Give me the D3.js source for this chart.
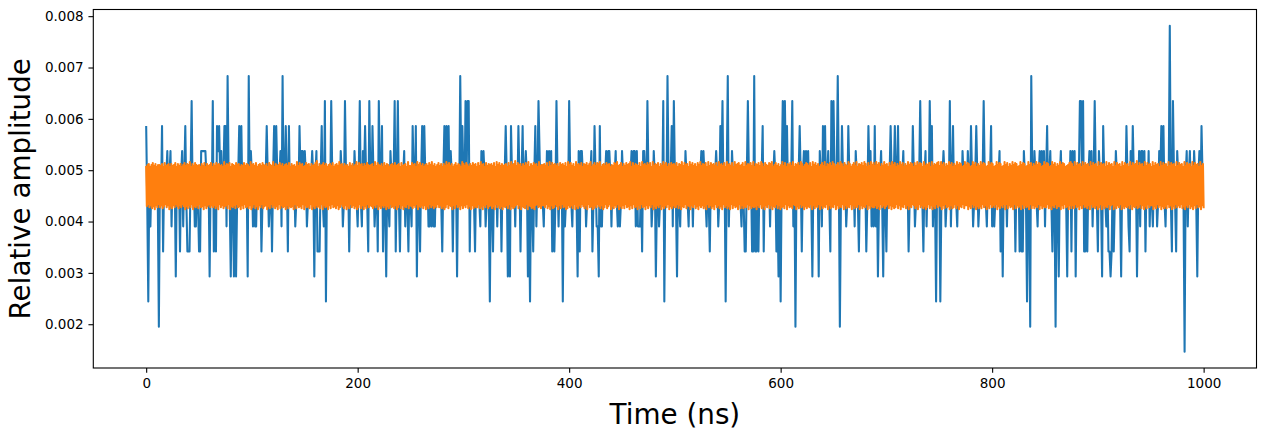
<!DOCTYPE html>
<html>
<head>
<meta charset="utf-8">
<script src="https://cdn.jsdelivr.net/npm/d3@7"></script>
<style>
    body { margin: 0; background: #fff; }
    svg { display: block; }
    text { font-family: "DejaVu Sans", sans-serif; }
</style>
</head>
<body>
<div id="chart"></div>
<script>
// Blue trace: one ADC level per ns (hex-ish, 'g' = 16), amplitude = level * LSB
const blueLevels = [
    "c95a8a9aa9 a94a9c7a9a b9ab8a9a6a 9a7ab8ac97 77ad9a88a9",
    "77bbbbba9a 6a9d7a7cbc ab9acc8ea9 6a96a69aca c9a9aa6e9b",
    "a8988a9aa7 9a9aca89a7 ac9ca9ab8e 9aca7c9a9a a89a9cabb9",
    "ba89a9aba6 ab777ac98d 5a9a9da9a9 a9a9ba89da 9a7a9a9ba9",
    "8ad98baca9 7da9ca89a7 da9c7a96a9 8ba9ad7ad9 7a9ab8a97a",
    "98ca9c6a97 ac9ca9a88a 8988a9a9a9 7ac9cac9ba 7a9a6a9eac",
    "a9dadd7a9a 97a9a98bab a89a95a97a 9a8a9a7a9a ca696ca9a8",
    "a9ca7ac9ab a695a97ac8 adb9a98a9b ab9b7a79da 8a9a5a89a9",
    "da98a9a96b 7bba9a89a9 ab79ca886c 88a9ab9bba 8a9ab98a89",
    "ba9a9a9aab abb8b888a7 bba9da9a89 ba69a89a9d 5a9ea9ac8d",
    "a96a98a9a9 ba98a9a8a9 a9a9ab9ba9 8a97a9a9ab a89cad9a5a",
    "e8a9ba9a9a 9a98a977ad a9a77e77a7 a9ac7a9a9a 8a9aba796a",
    "5ad9dac9a9 ad8a4a9aca 7ab9bab9a9 6a9a9a6ba8 cac9ab97da",
    "da9aea49ca 9a89ca9a9a 8ba97a9a9a a79cab898c 8a69ab96a9",
    "7a9aca9ac9 ac9a9ab9a9 a79a9ca89a 9ada97ab8a 9dac8a95a9",
    "a59aba89a9 d8ac9a98a9 a9ba9a9ba9 ca89aca89a 9ada98a9ac",
    "8a89a9ab7a 6a9a8a9a9a 9a7a9a7a77 ba95a94ea9 ba98ab9bab",
    "8ac9ab97a9 4a96ab9a9a 96a9b7bab6 a9addad77a 7ab9b8ada9",
    "7ba96ca98a 7767a79ba9 a96a9a9ca8 7b9ca9a69b 8bb9b7a9b8",
    "a98a9a89ba cac98a9ag9 7da97ba9a9 a93ab8ab9a 9ba96ab9ca"
].join('').replace(/\s/g, '');
const blueLSB = 1 / 2048;

// Orange trace: alternating upper / lower samples of the dense band
// upper = 0.00500 + d * 0.00002, lower = 0.00440 - d * 0.00002
const orangeHigh = [
    "4563574635 5463745636 4573646357 4658364754 5364736457",
    "3647564538 4657365475 6354746538 5647356475 4637548364",
    "5746356473 6453847563 4756364579 3645746356 4735648563",
    "6453746358 4756364754 5638475463 7465356474 5637456384",
    "4756385746 3564758463 5746364857 4635746538 6475364756",
    "3748563746 5647385746 4563748569 4756364758 3647563845",
    "5647384756 4637564738 5746385647 3657468357 4768356475",
    "6354768457 3647568374 6547385647 5738465736 4857364756",
    "4736584756 3857463758 4657384756 4738564738 5647385674",
    "5738465748 3657486375 4768357463 5847365748 3657486357",
    "6473857463 5748365748 6357486375 4863574836 5748637485",
    "7485736485 6374857364 8573648576 3748576384 6573846578",
    "4857364857 3648576348 5763485736 4857634857 6348576348",
    "5736485763 4857634857 3648576348 5763485736 4857634578",
    "6384756384 7563847563 8475638475 6384756384 7563847569",
    "4756384756 3847563847 5638475638 4756384756 3847563846"
].join('').replace(/\s/g, '');
const orangeLow = [
    "5364758463 6475364857 4635746358 5746385647 3658475364",
    "6475836475 4738564736 5847365748 6375846375 4857364758",
    "3746584756 5837465738 4657385746 5738465847 3657486357",
    "4857364758 6374857364 5746385746 4857365748 6374856374",
    "5746385647 4857364756 3647586374 5847365847 4637584756",
    "6375846375 4758364758 5647385764 3748567384 5768436574",
    "4637584763 5847365874 6473857463 5748365874 6357486375",
    "3857463857 4736584736 5847365847 4638574638 5746385746",
    "6374856374 5846375846 4758364758 3647583647 5837465837",
    "4756384756 5846375846 3748563748 6573846573 4857364857",
    "5638475638 4756384756 3847563847 5638475638 4756384756",
    "6475836475 3748576374 8563748563 4758364758 6374857364",
    "5847365847 6374856374 4857364857 5736485736 4638574638",
    "3746583746 5837465837 4756384756 6375846375 5847365847",
    "4736584736 5748365748 6384756384 3857463857 5647385647",
    "6374857364 4857364857 5736485736 4637584637 5847365847"
].join('').replace(/\s/g, '');
const orangeHighBase = 0.0050;
const orangeLowBase = 0.0044;
const orangeStep = 0.00002;
const orangeEnd = 1000; // ns

const xTicks = [0, 200, 400, 600, 800, 1000];
const yTicks = [0.002, 0.003, 0.004, 0.005, 0.006, 0.007, 0.008];

// Build series
const blueData = [...blueLevels].map((c, i) => ({ t: i, v: parseInt(c, 17) * blueLSB }));

const nOrange = Math.min(orangeHigh.length, orangeLow.length);
const dt = orangeEnd / (2 * nOrange - 1);
const orangeData = [];
for (let i = 0; i < nOrange; i++) {
    orangeData.push({ t: 2 * i * dt, v: orangeHighBase + (+orangeHigh[i]) * orangeStep });
    orangeData.push({ t: (2 * i + 1) * dt, v: orangeLowBase - (+orangeLow[i]) * orangeStep });
}

const W = 1265, H = 435;
const margin = { top: 9.5, right: 8.5, bottom: 67, left: 93.3 };
const width = W - margin.left - margin.right;
const height = H - margin.top - margin.bottom;

const svg = d3.select('#chart')
    .append('svg')
    .attr('width', W)
    .attr('height', H);

svg.append('rect').attr('width', W).attr('height', H).attr('fill', '#fff');

const g = svg.append('g')
    .attr('transform', `translate(${margin.left},${margin.top})`);

// matplotlib-like 5% margins
const all = blueData.concat(orangeData);
const [tMin, tMax] = d3.extent(all, d => d.t);
const [vMin, vMax] = d3.extent(all, d => d.v);
const tPad = (tMax - tMin) * 0.05, vPad = (vMax - vMin) * 0.05;

const xScale = d3.scaleLinear().domain([tMin - tPad, tMax + tPad]).range([0, width]);
const yScale = d3.scaleLinear().domain([vMin - vPad, vMax + vPad]).range([height, 0]);

g.append('clipPath').attr('id', 'clip')
    .append('rect').attr('width', width).attr('height', height);

const line = d3.line().x(d => xScale(d.t)).y(d => yScale(d.v));

const plot = g.append('g').attr('clip-path', 'url(#clip)');

// 1.5pt lines at 100 dpi
plot.append('path')
    .datum(blueData)
    .attr('fill', 'none')
    .attr('stroke', '#1f77b4')
    .attr('stroke-width', 2.08)
    .attr('stroke-linejoin', 'round')
    .attr('d', line);

plot.append('path')
    .datum(orangeData)
    .attr('fill', 'none')
    .attr('stroke', '#ff7f0e')
    .attr('stroke-width', 2.08)
    .attr('stroke-linejoin', 'round')
    .attr('d', line);

// Axes
const tickLen = 4.86;
const xAxis = g.append('g')
    .attr('transform', `translate(0,${height})`)
    .call(d3.axisBottom(xScale).tickValues(xTicks).tickFormat(d3.format('d')).tickSize(tickLen).tickPadding(5.5));

const yAxis = g.append('g')
    .call(d3.axisLeft(yScale).tickValues(yTicks).tickFormat(d3.format('.3f')).tickSize(tickLen).tickPadding(4.86));

[xAxis, yAxis].forEach(ax => {
    ax.select('.domain').remove();
    ax.selectAll('line').attr('stroke', '#000').attr('stroke-width', 1.1);
    ax.selectAll('text')
        .attr('fill', '#000')
        .style('font-size', '13.5px')
        .style('font-family', '"DejaVu Sans", sans-serif');
});

// Frame
g.append('rect')
    .attr('width', width)
    .attr('height', height)
    .attr('fill', 'none')
    .attr('stroke', '#000')
    .attr('stroke-width', 1.1);

// Axis labels
svg.append('text')
    .attr('x', margin.left + width / 2)
    .attr('y', 424)
    .attr('text-anchor', 'middle')
    .style('font-size', '27.8px')
    .style('fill', '#000')
    .text('Time (ns)');

svg.append('text')
    .attr('transform', 'rotate(-90)')
    .attr('x', -(margin.top + height / 2))
    .attr('y', 30)
    .attr('text-anchor', 'middle')
    .style('font-size', '27.8px')
    .style('fill', '#000')
    .text('Relative amplitude');
</script>
</body>
</html>
